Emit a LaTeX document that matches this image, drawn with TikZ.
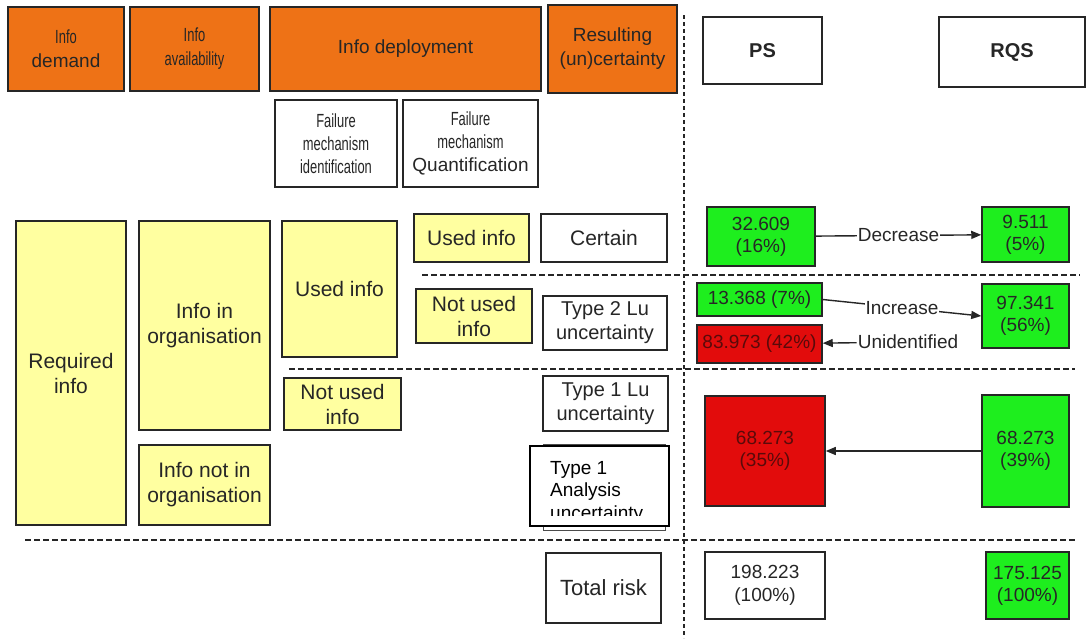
\documentclass[tikz,border=0pt]{standalone}
\usepackage{fontspec}
\usepackage{graphicx}
\setmainfont{Liberation Sans}
\usetikzlibrary{arrows.meta}

\definecolor{hdrorange}{RGB}{238,114,22}
\definecolor{infoyellow}{RGB}{255,255,160}
\definecolor{okgreen}{RGB}{30,238,30}
\definecolor{riskred}{RGB}{226,12,12}
\definecolor{inkred}{RGB}{90,10,10}

% condensed bitmap-like words
\newcommand\narrowword[1]{\scalebox{0.68}[1]{#1}}
\newcommand\fs[2]{\fontsize{#1}{#2}\selectfont}

\tikzset{
  basebox/.style={draw=black!85, line width=1.5pt, inner sep=0pt, align=center,
    text=black!85, font=\fs{19}{23}},
  hdrbox/.style={basebox, fill=hdrorange, font=\fs{19}{24}},
  yelbox/.style={basebox, fill=infoyellow, font=\fs{21}{25}},
  whtbox/.style={basebox, fill=white},
  grnbox/.style={basebox, fill=okgreen, font=\fs{19}{22}},
  redbox/.style={basebox, fill=riskred, text=inkred, font=\fs{19}{22}},
  sep/.style={line width=1.5pt, black!85, dash pattern=on 6pt off 3pt},
  vsep/.style={line width=1.5pt, black!85, dash pattern=on 4pt off 3pt},
  flow/.style={line width=1.4pt, black!85, -{Triangle[length=10pt,width=8pt]}},
  flowlabel/.style={fill=white, inner sep=1pt, text=black!85, font=\fs{19}{22}},
}

\begin{document}
\begin{tikzpicture}[x=1pt,y=-1pt]
\useasboundingbox (0,0) rectangle (1089,638);

% separators
\draw[vsep] (684,15) -- (684,638);
\draw[sep] (422,275) -- (1080,275);
\draw[sep] (289,369) -- (1075,369);
\draw[sep] (25,540) -- (1075,540);

% column headers
\node[hdrbox, minimum width=116pt, minimum height=84pt] (dem) at (66,49)
  {\narrowword{Info}\\demand};
\node[hdrbox, minimum width=129pt, minimum height=84pt] (avail) at (194.5,49)
  {\narrowword{Info}\\\narrowword{availability}};
\node[hdrbox, minimum width=271pt, minimum height=84pt] (deploy) at (405.5,49)
  {Info deployment};
\node[hdrbox, minimum width=129pt, minimum height=88pt] (result) at (612.5,49)
  {Resulting\\(un)certainty};
\node[whtbox, font=\bfseries\fs{20}{24}, minimum width=119pt, minimum height=67pt] (ps) at (762.5,50.5) {PS};
\node[whtbox, font=\bfseries\fs{20}{24}, minimum width=146pt, minimum height=70pt] (rqs) at (1012,52) {RQS};

% deployment sub-headers
\node[whtbox, minimum width=122pt, minimum height=87pt] (fmid) at (336,143.5)
  {\narrowword{Failure}\\\narrowword{mechanism}\\\narrowword{identification}};
\node[whtbox, minimum width=135pt, minimum height=87pt] (fmq) at (470.5,143.5)
  {\narrowword{Failure}\\\narrowword{mechanism}\\Quantification};

% information breakdown
\node[yelbox, minimum width=110pt, minimum height=304pt] (req) at (71,373) {Required\\info};
\node[yelbox, minimum width=131pt, minimum height=209pt] (inorg) at (204.5,325.5) {Info in\\organisation};
\node[yelbox, minimum width=131pt, minimum height=80pt] (notorg) at (204.5,485) {Info not in\\organisation};
\node[yelbox, minimum width=115pt, minimum height=136pt] (usedA) at (339.5,289) {Used info};
\node[yelbox, minimum width=117pt, minimum height=52pt] (notusedA) at (342.5,404) {Not used\\info};
\node[yelbox, minimum width=115pt, minimum height=48pt] (usedB) at (471.5,238) {Used info};
\node[yelbox, minimum width=116pt, minimum height=54pt] (notusedB) at (474,316) {Not used\\info};

% resulting (un)certainty
\node[whtbox, font=\fs{21}{25}, minimum width=126pt, minimum height=48pt] (certain) at (604,238) {Certain};
\node[whtbox, font=\fs{20}{24}, minimum width=124pt, minimum height=54pt] (typetwo) at (605,323) {Type 2 Lu\\uncertainty};
\node[whtbox, font=\fs{20}{24}, minimum width=125pt, minimum height=55pt] (typeonelu) at (605.5,403.5) {Type 1 Lu\\uncertainty};
\node[draw=black!70, line width=1pt, fill=white, minimum width=122pt, minimum height=86pt, inner sep=0pt] (shadow) at (604,487) {};
\node[basebox, draw=black, fill=white, minimum width=139pt, minimum height=80pt] (typeonean) at (599.5,486) {};
\begin{scope}
  \clip (532,448) rectangle (667,515);
  \node[anchor=north west, align=left, inner sep=0pt, text=black, font=\fs{19}{22.5}]
    (typeonetxt) at (550,461) {Type 1\\Analysis\\uncertainty};
\end{scope}
\node[whtbox, font=\fs{22}{26}, minimum width=115pt, minimum height=70pt] (total) at (603.5,588) {Total risk};

% PS / RQS values
\node[grnbox, minimum width=108pt, minimum height=59pt] (psA) at (761,236.5) {32.609\\(16\%)};
\node[grnbox, minimum width=87pt, minimum height=55pt] (rqsA) at (1025.5,234.5) {9.511\\(5\%)};
\node[grnbox, minimum width=125pt, minimum height=33pt] (psB) at (759.5,299.5) {13.368 (7\%)};
\node[redbox, minimum width=125pt, minimum height=38pt] (psC) at (759.5,344) {83.973 (42\%)};
\node[grnbox, minimum width=87pt, minimum height=64pt] (rqsB) at (1025.5,316) {97.341\\(56\%)};
\node[redbox, minimum width=120pt, minimum height=110pt] (psD) at (765,451) {68.273\\(35\%)};
\node[grnbox, minimum width=87pt, minimum height=112pt] (rqsD) at (1025.5,451) {68.273\\(39\%)};
\node[whtbox, minimum width=120pt, minimum height=67pt] (psTot) at (765,585.5) {198.223\\(100\%)};
\node[grnbox, minimum width=83pt, minimum height=67pt] (rqsTot) at (1027.5,585.5) {175.125\\(100\%)};

% transitions between PS and RQS
\draw[flow] (psA) -- node[flowlabel] {Decrease} (rqsA);
\draw[flow] (psB.east) -- node[flowlabel] {Increase} (rqsB.west);
\node[flowlabel] (unid) at (908,342) {Unidentified};
\draw[flow] (unid) -- (psC);
\draw[flow] (rqsD) -- (psD);
\end{tikzpicture}
\end{document}
